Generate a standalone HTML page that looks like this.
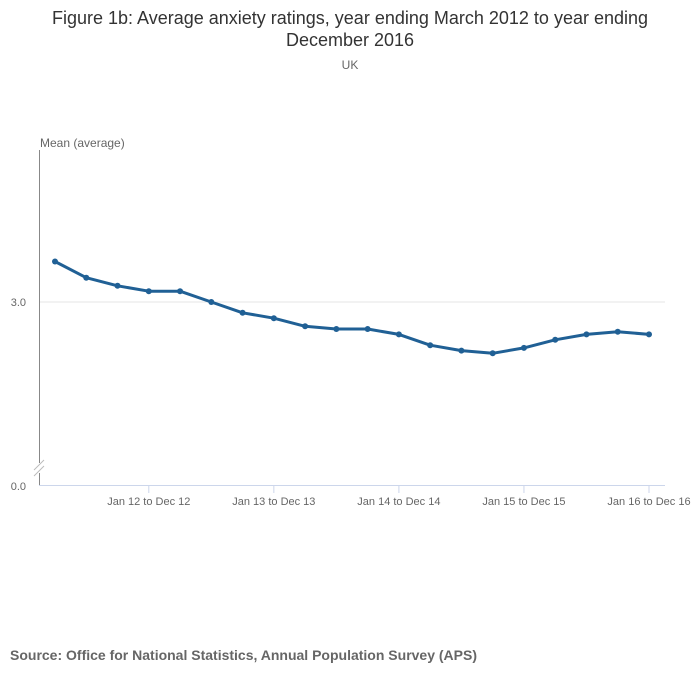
<!DOCTYPE html>
<html><head><meta charset="utf-8"><style>
body{margin:0;background:#fff;font-family:"Liberation Sans",sans-serif;}
</style></head><body>
<svg width="700" height="682" xmlns="http://www.w3.org/2000/svg" font-family="Liberation Sans, sans-serif">
<text x="350" y="24" font-size="18" fill="#333" text-anchor="middle">Figure 1b: Average anxiety ratings, year ending March 2012 to year ending</text>
<text x="350" y="46" font-size="18" fill="#333" text-anchor="middle">December 2016</text>
<text x="350" y="69" font-size="12" fill="#666" text-anchor="middle">UK</text>
<text x="40" y="147" font-size="12" fill="#666">Mean (average)</text>
<line x1="39" x2="665" y1="302" y2="302" stroke="#e6e6e6"/>
<text x="26" y="306" font-size="11" fill="#666" text-anchor="end">3.0</text>
<text x="26" y="490" font-size="11" fill="#666" text-anchor="end">0.0</text>
<line x1="39.5" x2="39.5" y1="150" y2="463" stroke="#888"/>
<line x1="39.5" x2="39.5" y1="473" y2="485" stroke="#888"/>
<line x1="34" x2="44" y1="470" y2="460" stroke="#bbb"/>
<line x1="34" x2="44" y1="476" y2="466" stroke="#bbb"/>
<line x1="39" x2="665" y1="485.5" y2="485.5" stroke="#ccd6eb"/>
<g id="xt"></g>
<polyline id="ln" fill="none" stroke="#206095" stroke-width="3" stroke-linejoin="round"/>
<g id="pts"></g>
<text x="10" y="660" font-size="14" font-weight="bold" fill="#666">Source: Office for National Statistics, Annual Population Survey (APS)</text>
</svg>
<script>
const values=[3.15,3.09,3.06,3.04,3.04,3.00,2.96,2.94,2.91,2.90,2.90,2.88,2.84,2.82,2.81,2.83,2.86,2.88,2.89,2.88];
const tickLabels=["Jan 12 to Dec 12","Jan 13 to Dec 13","Jan 14 to Dec 14","Jan 15 to Dec 15","Jan 16 to Dec 16"];
const tickIndex=[3,7,11,15,19];
const NS="http://www.w3.org/2000/svg";
const xs=i=>55+i*(649-55)/(values.length-1);
const ys=v=>302-(v-3)*270;
document.getElementById('ln').setAttribute('points',values.map((v,i)=>xs(i)+','+ys(v)).join(' '));
const pg=document.getElementById('pts');
values.forEach((v,i)=>{const c=document.createElementNS(NS,'circle');


c.setAttribute('cx',xs(i));c.setAttribute('cy',ys(v));c.setAttribute('r',3);c.setAttribute('fill','#206095');pg.appendChild(c);});
const xg=document.getElementById('xt');
tickLabels.forEach((t,k)=>{const x=xs(tickIndex[k]);
const l=document.createElementNS(NS,'line');


l.setAttribute('x1',x);l.setAttribute('x2',x);l.setAttribute('y1',485);l.setAttribute('y2',493);l.setAttribute('stroke','#ccd6eb');xg.appendChild(l);
const tx=document.createElementNS(NS,'text');


tx.setAttribute('x',x);tx.setAttribute('y',505);tx.setAttribute('font-size',11);tx.setAttribute('fill','#666');tx.setAttribute('text-anchor','middle');tx.textContent=t;xg.appendChild(tx);});
</script>
</body></html>
